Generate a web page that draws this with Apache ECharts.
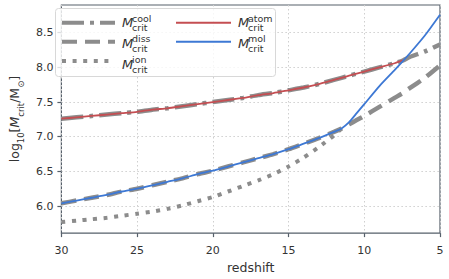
<!DOCTYPE html>
<html><head><meta charset="utf-8">
<script src="https://cdn.jsdelivr.net/npm/echarts@6/dist/echarts.min.js"></script>
<style>html,body{margin:0;padding:0;background:#fff}#c{width:449px;height:279px}</style>
</head><body><div id="c"></div>
<script>
// redshift sample grid
var redshift = [30,29,28,27,26,25,24,23,22,21,20,19,18,17,16,15,14,13,12,11.5,11,10.5,10,9,8,7.45,7,6,5];
// log10 Mcrit values (null = not drawn)
var atom = [7.26,7.28,7.30,7.32,7.34,7.36,7.39,7.41,7.44,7.47,7.50,7.53,7.56,7.60,7.63,7.67,7.71,7.76,7.82,7.85,7.88,7.91,7.94,8.00,8.06,8.10,null,null,null];
var mol  = [6.04,6.08,6.12,6.16,6.21,6.25,6.30,6.35,6.40,6.46,6.51,6.57,6.63,6.69,6.75,6.82,6.90,6.98,7.07,7.12,7.21,7.34,7.47,7.73,7.96,8.09,8.20,8.46,8.76];
var cool = [7.26,7.28,7.30,7.32,7.34,7.36,7.39,7.41,7.44,7.47,7.50,7.53,7.56,7.60,7.63,7.67,7.71,7.76,7.82,7.85,7.88,7.91,7.94,8.00,8.06,8.10,8.15,8.23,8.33];
var diss = [6.04,6.08,6.12,6.16,6.21,6.25,6.30,6.35,6.40,6.46,6.51,6.57,6.63,6.69,6.75,6.82,6.90,6.98,7.07,7.12,7.18,7.24,7.30,7.43,7.56,7.63,7.70,7.85,8.03];
var ion  = [5.77,5.79,5.81,5.83,5.86,5.89,5.92,5.96,6.01,6.07,6.13,6.21,6.29,6.37,6.46,6.57,6.70,6.85,7.02,7.12,null,null,null,null,null,null,null,null,null];
var xTicks = [5,10,15,20,25,30];
var yTicks = [6.0,6.5,7.0,7.5,8.0,8.5];

function pairs(v){ var out=[]; for(var i=0;i<redshift.length;i++){ if(v[i]!==null) out.push([redshift[i], v[i]]); } return out; }

var FONT = 'DejaVu Sans';
var GRAY = '#8c8c8c';
var RED = '#c44e52';
var BLUE = '#3d78d4';
var FRAME = '#56606b';

function line(name, data, color, width, type, z){
  return {name:name, type:'line', data:pairs(data), showSymbol:false, symbol:'none', smooth:0.2, z:z,
    lineStyle:{color:color, width:width, type:type, cap:'butt'}, itemStyle:{color:color}, emphasis:{disabled:true}, animation:false};
}

var chart = echarts.init(document.getElementById('c'), null, {renderer:'svg'});

function legendLabel(x, y, sup){
  return [
    {type:'text', x:x, y:y, z:20, style:{text:'M', font:'italic 13px '+FONT, fill:'#333', verticalAlign:'middle', align:'left'}},
    {type:'text', x:x+10, y:y-4.5, z:20, style:{text:sup, font:'9.5px '+FONT, fill:'#333', verticalAlign:'middle', align:'left'}},
    {type:'text', x:x+10, y:y+5, z:20, style:{text:'crit', font:'9.5px '+FONT, fill:'#333', verticalAlign:'middle', align:'left'}}
  ];
}

var graphics = [
  {type:'rect', shape:{x:55.5, y:8.5, width:220, height:68, r:3}, z:5,
   style:{fill:'rgba(255,255,255,0.8)', stroke:'#d8d8d8', lineWidth:1}}
].concat(legendLabel(122, 22.7, 'cool'), legendLabel(122, 43.3, 'diss'), legendLabel(122, 64, 'ion'),
         legendLabel(238, 22.7, 'atom'), legendLabel(238, 43.3, 'mol'));

var hideSym = {opacity:0, borderWidth:0};

chart.setOption({
  animation:false,
  textStyle:{fontFamily:FONT},
  grid:{left:49, right:9, top:5, bottom:42.3, show:true, borderColor:FRAME, borderWidth:1.2, backgroundColor:'transparent'},
  xAxis:{type:'value', inverse:true, min:5, max:30, interval:5,
    name:'redshift', nameLocation:'middle', nameGap:23, nameTextStyle:{fontSize:12.5, color:'#333', fontFamily:FONT},
    axisLine:{show:false}, axisTick:{show:true, length:4, lineStyle:{color:FRAME, width:1.2}},
    axisLabel:{fontSize:11, color:'#333', margin:12, fontFamily:FONT},
    splitLine:{show:true, lineStyle:{color:'#cfcfcf', type:[1.5,2.5], width:1}}},
  yAxis:{type:'value', min:5.61, max:8.9,
    name:'{n|log}{s|10}{n|[}{i|M}{s|crit}{n|/M}{s|⊙}{n|]}', nameLocation:'middle', nameGap:32, nameRotate:90,
    nameTextStyle:{color:'#333', rich:{
      n:{fontSize:12.5, fontFamily:FONT, color:'#333', lineHeight:16, verticalAlign:'bottom'},
      i:{fontSize:12.5, fontFamily:FONT, fontStyle:'italic', color:'#333', lineHeight:16, verticalAlign:'bottom'},
      s:{fontSize:8.5, fontFamily:FONT, color:'#333', lineHeight:16, verticalAlign:'bottom', padding:[0,0,-4,0]}}},
    axisLine:{show:false},
    axisTick:{show:true, length:4, customValues:yTicks, lineStyle:{color:FRAME, width:1.2}},
    axisLabel:{fontSize:11, color:'#333', margin:8, customValues:yTicks, fontFamily:FONT, formatter:function(v){return v.toFixed(1);}},
    splitLine:{show:true, lineStyle:{color:'#cfcfcf', type:[1.5,2.5], width:1}}},
  legend:[
    {left:60, top:15.7, orient:'vertical', itemWidth:53, itemHeight:14, itemGap:6.5, padding:0, z:10,
     formatter:function(){return '';}, textStyle:{fontSize:1}, itemStyle:hideSym,
     data:[{name:'cool', lineStyle:{width:4}, itemStyle:hideSym}, {name:'diss', lineStyle:{width:4}, itemStyle:hideSym}, {name:'ion', lineStyle:{width:4}, itemStyle:hideSym}]},
    {left:175, top:15.7, orient:'vertical', itemWidth:55, itemHeight:14, itemGap:6.5, padding:0, z:10,
     formatter:function(){return '';}, textStyle:{fontSize:1}, itemStyle:hideSym,
     data:[{name:'atom', lineStyle:{width:2}, itemStyle:hideSym}, {name:'mol', lineStyle:{width:2}, itemStyle:hideSym}]}
  ],
  graphic:graphics,
  series:[
    line('cool', cool, GRAY, 4.5, [22,6,4,6], 2),
    line('diss', diss, GRAY, 4.5, [15,8], 2),
    line('ion', ion, GRAY, 4, [4,6.6], 2),
    line('atom', atom, RED, 1.8, 'solid', 3),
    line('mol', mol, BLUE, 1.8, 'solid', 4)
  ]
});
</script></body></html>
